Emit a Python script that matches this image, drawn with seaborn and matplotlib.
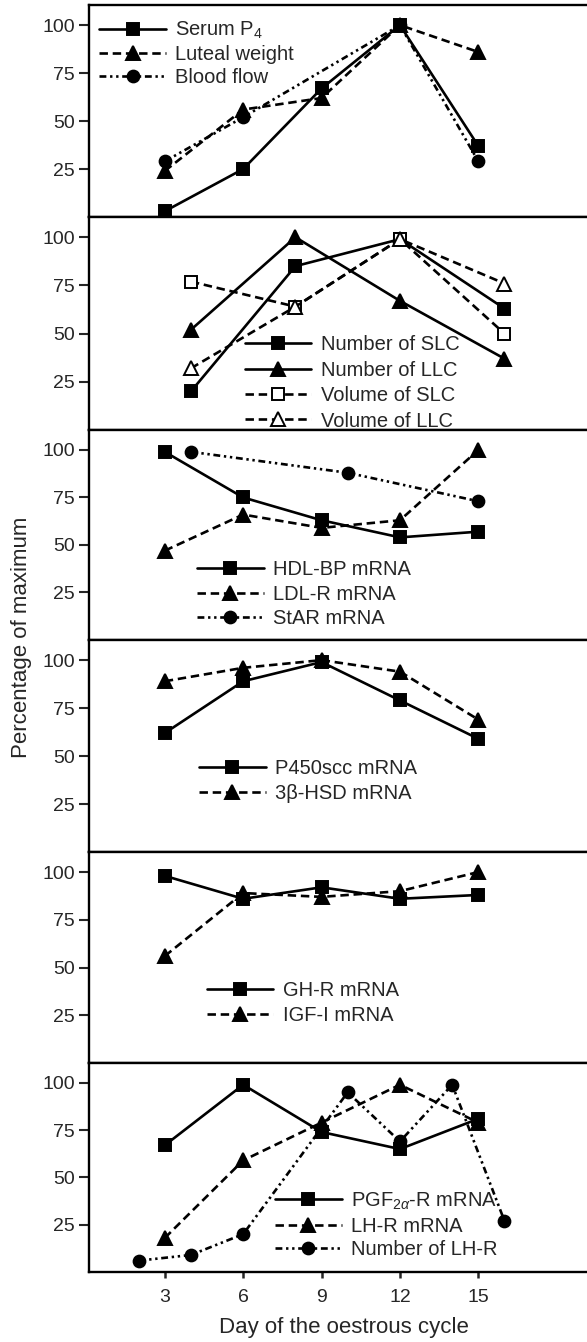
import matplotlib
matplotlib.use("Agg")
import matplotlib.pyplot as plt
import seaborn as sns

# ---- data (percentage of maximum) ----
# panel 1
p1_days = [3, 6, 9, 12, 15]
serum_p4 = [3, 25, 67, 100, 37]
luteal_weight = [24, 56, 62, 100, 86]
blood_days = [3, 6, 12, 15]
blood_flow = [29, 52, 100, 29]

# panel 2
p2_days = [4, 8, 12, 16]
n_slc = [20, 85, 99, 63]
n_llc = [52, 100, 67, 37]
vol_slc = [77, 64, 99, 50]
vol_llc = [32, 64, 99, 76]

# panel 3
p3_days = [3, 6, 9, 12, 15]
hdl_bp = [99, 75, 63, 54, 57]
ldl_r = [47, 66, 59, 63, 100]
star_days = [4, 10, 15]
star = [99, 88, 73]

# panel 4
p4_days = [3, 6, 9, 12, 15]
p450scc = [62, 89, 99, 79, 59]
hsd3b = [89, 96, 100, 94, 69]

# panel 5
p5_days = [3, 6, 9, 12, 15]
gh_r = [98, 86, 92, 86, 88]
igf_1 = [56, 89, 87, 90, 100]

# panel 6
p6_days = [3, 6, 9, 12, 15]
pgf_r = [67, 99, 74, 65, 81]
lh_r = [18, 59, 79, 99, 79]
lhr_days = [2, 4, 6, 10, 12, 14, 16]
n_lhr = [6, 9, 20, 95, 69, 99, 27]

x_ticks = [3, 6, 9, 12, 15]
y_ticks = [25, 50, 75, 100]

# ---- styles ----
SOLID = "-"
DASH = (0, (3.2, 1.8))
DDOT = (0, (2.6, 1.4, 0.9, 1.4, 0.9, 1.4))

sns.set_style("ticks")
plt.rcParams["font.family"] = ["Liberation Sans", "DejaVu Sans"]
plt.rcParams["mathtext.fontset"] = "custom"
plt.rcParams["mathtext.rm"] = "Liberation Sans"
plt.rcParams["mathtext.it"] = "Liberation Sans:italic"

panels = [
    {
        "series": [
            (p1_days, serum_p4, "Serum P$_4$", SOLID, "s", "black"),
            (p1_days, luteal_weight, "Luteal weight", DASH, "^", "black"),
            (blood_days, blood_flow, "Blood flow", DDOT, "o", "black"),
        ],
        "legend": (0.02, 0.93),
        "spacing": 0.2,
    },
    {
        "series": [
            (p2_days, n_slc, "Number of SLC", SOLID, "s", "black"),
            (p2_days, n_llc, "Number of LLC", SOLID, "^", "black"),
            (p2_days, vol_slc, "Volume of SLC", DASH, "s", "white"),
            (p2_days, vol_llc, "Volume of LLC", DASH, "^", "white"),
        ],
        "legend": (0.30, 0.445),
        "spacing": 0.32,
    },
    {
        "series": [
            (p3_days, hdl_bp, "HDL-BP mRNA", SOLID, "s", "black"),
            (p3_days, ldl_r, "LDL-R mRNA", DASH, "^", "black"),
            (star_days, star, "StAR mRNA", DDOT, "o", "black"),
        ],
        "legend": (0.208, 0.38),
        "spacing": 0.28,
    },
    {
        "series": [
            (p4_days, p450scc, "P450scc mRNA", SOLID, "s", "black"),
            (p4_days, hsd3b, "3β-HSD mRNA", DASH, "^", "black"),
        ],
        "legend": (0.212, 0.44),
        "spacing": 0.3,
    },
    {
        "series": [
            (p5_days, gh_r, "GH-R mRNA", SOLID, "s", "black"),
            (p5_days, igf_1, "IGF-I mRNA", DASH, "^", "black"),
        ],
        "legend": (0.227, 0.39),
        "spacing": 0.32,
    },
    {
        "series": [
            (p6_days, pgf_r, "PGF$_{2\\alpha}$-R mRNA", SOLID, "s", "black"),
            (p6_days, lh_r, "LH-R mRNA", DASH, "^", "black"),
            (lhr_days, n_lhr, "Number of LH-R", DDOT, "o", "black"),
        ],
        "legend": (0.358, 0.39),
        "spacing": 0.24,
    },
]

W, H = 587, 1342
fig = plt.figure(figsize=(W / 100, H / 100), dpi=100)

edges = [5, 217, 430, 640, 852, 1063, 1272]
left_px, width_px = 89, 520

for i, panel in enumerate(panels):
    top, bottom = edges[i], edges[i + 1]
    ax = fig.add_axes([left_px / W, 1 - bottom / H, width_px / W, (bottom - top) / H])
    for days, vals, label, ls, mk, fc in panel["series"]:
        ms = 9.5 if mk == "^" else 8.5
        sns.lineplot(x=days, y=vals, ax=ax, color="black", linestyle=ls,
                     linewidth=1.9, marker=mk, markersize=ms,
                     markerfacecolor=fc, markeredgecolor="black",
                     markeredgewidth=1.4, label=label)
    ax.set_xlim(0.1, 20)
    ax.set_ylim(0, 110.5)
    ax.set_yticks(y_ticks)
    ax.set_xticks(x_ticks)
    ax.tick_params(axis="y", direction="out", length=7, width=1.5,
                   labelsize=14, pad=3)
    if i < len(panels) - 1:
        ax.tick_params(axis="x", length=0, labelbottom=False)
    else:
        ax.tick_params(axis="x", direction="out", length=4, width=1.8,
                       labelsize=14, pad=8)
    for side in ["left", "top", "bottom", "right"]:
        ax.spines[side].set_linewidth(1.7)
        ax.spines[side].set_color("black")
    ax.set_xlabel("")
    ax.set_ylabel("")
    ax.legend(loc="upper left", bbox_to_anchor=panel["legend"], frameon=False,
              fontsize=14.5, handlelength=3.3, handletextpad=0.45,
              labelspacing=panel["spacing"], borderpad=0, borderaxespad=0)

fig.text(22 / W, 1 - 637 / H, "Percentage of maximum", rotation=90,
         ha="center", va="center", fontsize=16)
fig.text(344 / W, 1 - 1327 / H, "Day of the oestrous cycle",
         ha="center", va="center", fontsize=16)

fig.savefig("out.png", dpi=100, facecolor="white")
